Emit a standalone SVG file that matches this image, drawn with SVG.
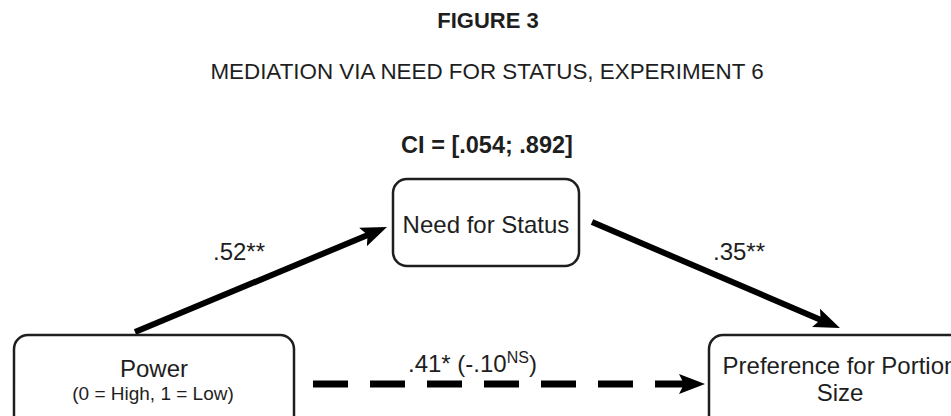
<svg xmlns="http://www.w3.org/2000/svg" width="951" height="416" viewBox="0 0 951 416">
<style>
text{font-family:"Liberation Sans",Arial,sans-serif;fill:#1e1e1e}
.title{font-weight:bold;font-size:22px;text-anchor:middle}
.sub{font-size:22.4px;text-anchor:middle}
.ci{font-weight:bold;font-size:23.5px;text-anchor:middle}
.node rect{fill:#fff;stroke:#1e1e1e;stroke-width:2.5}
.lbl{font-size:24px;text-anchor:middle}
.small{font-size:19px;text-anchor:middle}
.edge{fill:none;stroke:#000;stroke-width:6}
.dash{fill:none;stroke:#000;stroke-width:7;stroke-dasharray:35 22}
.coef{font-size:24px}
</style>
<defs>
<marker id="ah" viewBox="0 -11 26 22" markerWidth="26" markerHeight="22" markerUnits="userSpaceOnUse" refX="13" refY="0" orient="auto">
<path d="M0,-10 L26,0 L0,10 L5,0 Z" fill="#000"/>
</marker>
</defs>
<rect width="951" height="416" fill="#fff"/>
<text class="title" x="488" y="28">FIGURE 3</text>
<text class="sub" x="487" y="79">MEDIATION VIA NEED FOR STATUS, EXPERIMENT 6</text>
<text class="ci" x="487" y="153">CI = [.054; .892]</text>
<g id="connectors">
<path class="edge" d="M135,332 L375,232" marker-end="url(#ah)"/>
<path class="edge" d="M592,222 L828,323" marker-end="url(#ah)"/>
<path class="dash" d="M313,384 L692,384" marker-end="url(#ah)"/>
<text class="coef" x="213" y="260">.52**</text>
<text class="coef" x="713" y="260">.35**</text>
<text class="coef" x="408" y="372">.41* (-.10<tspan font-size="16" dy="-9">NS</tspan><tspan dy="9">)</tspan></text>
</g>
<g id="need" class="node">
<rect x="393" y="179" width="186" height="87" rx="14"/>
<text class="lbl" x="486" y="233">Need for Status</text>
</g>
<g id="power" class="node">
<rect x="14" y="335" width="280" height="100" rx="14"/>
<text class="lbl" x="154" y="377">Power</text>
<text class="small" x="153" y="400">(0 = High, 1 = Low)</text>
</g>
<g id="preference" class="node">
<rect x="709" y="335" width="280" height="100" rx="14"/>
<text class="lbl" x="840" y="374">Preference for Portion</text>
<text class="lbl" x="840" y="401">Size</text>
</g>
</svg>
